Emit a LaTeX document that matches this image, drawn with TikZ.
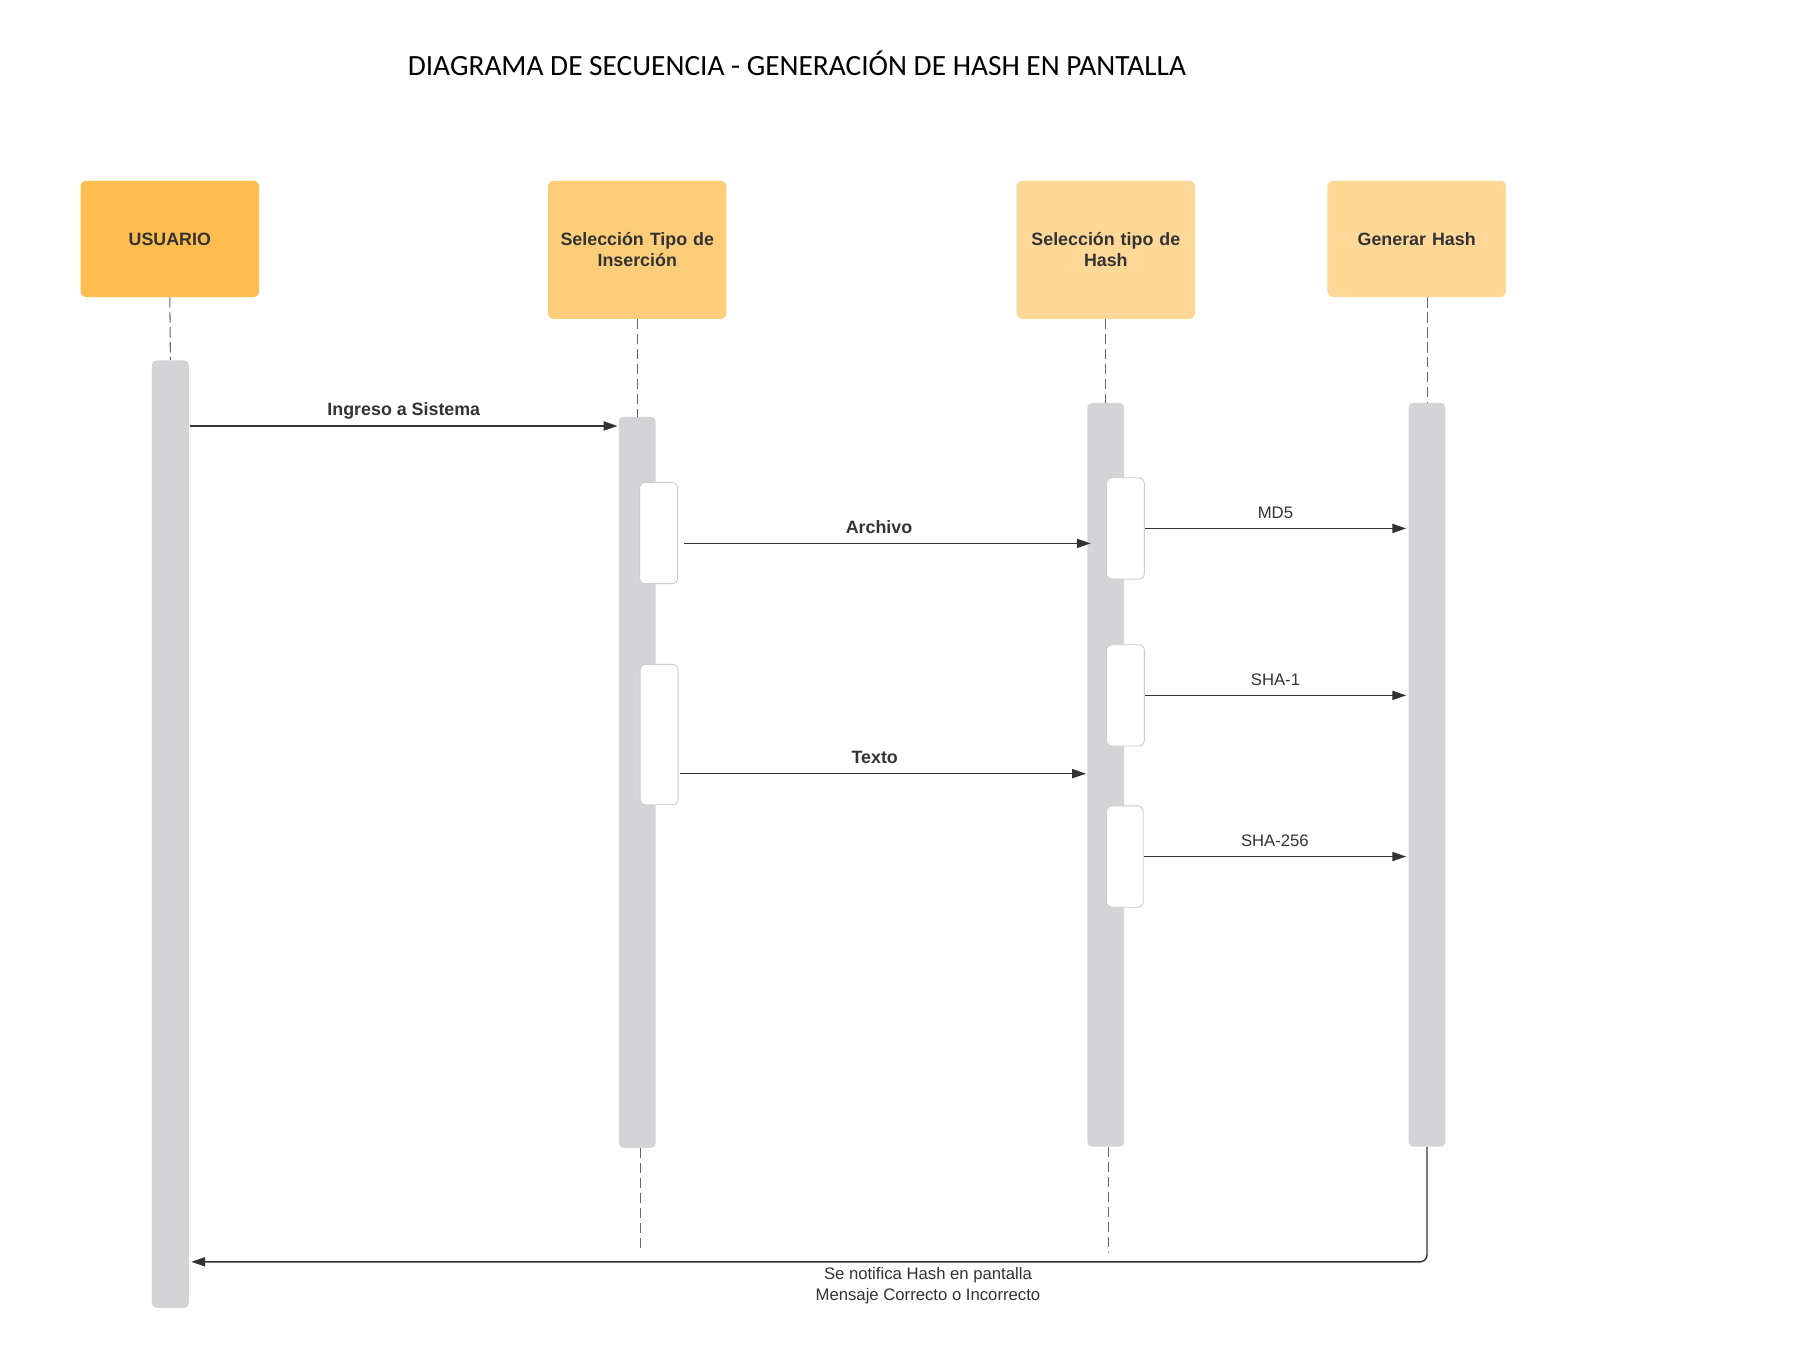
\documentclass[tikz,border=0pt]{standalone}
\usepackage{fontspec}
\setmainfont{Liberation Sans}
\newfontfamily\titlefont{Carlito}
\usepackage{tikz}
\usetikzlibrary{positioning,arrows.meta,calc}
\definecolor{headA}{HTML}{FFBC4F}
\definecolor{headB}{HTML}{FECD7A}
\definecolor{headC}{HTML}{FFD897}
\definecolor{barfill}{HTML}{D4D4D6}
\definecolor{actline}{HTML}{CDCDCF}
\definecolor{ink}{HTML}{333333}
\tikzset{
    head/.style = {
        shape=rectangle,
        rounded corners=5pt,
        minimum width=155pt,
        minimum height=101pt,
        text width=150pt,
        align=center,
        inner sep=0pt,
        text=ink,
        font=\fontsize{15.5}{18}\selectfont\bfseries
    },
    bar/.style = {
        shape=rectangle,
        fill=barfill,
        rounded corners=4pt,
        minimum width=32pt,
        inner sep=0pt
    },
    act/.style = {
        shape=rectangle,
        fill=white,
        draw=actline,
        line width=0.8pt,
        rounded corners=5pt,
        minimum width=33pt,
        minimum height=88pt,
        inner sep=0pt
    },
    life/.style = {
        draw=ink!75,
        line width=0.9pt,
        dash pattern=on 9pt off 4pt
    },
    msg/.style = {
        draw=ink,
        line width=1.2pt,
        -{Triangle[length=12pt,width=8pt]}
    },
    lbl/.style = {
        anchor=base,
        inner sep=0pt,
        text=ink,
        yshift=9pt
    },
    boldlbl/.style = {
        lbl,
        font=\fontsize{15.5}{18}\selectfont\bfseries
    },
    thinlbl/.style = {
        lbl,
        font=\fontsize{14.5}{18}\selectfont
    },
}
\begin{document}
\begin{tikzpicture}[x=1pt,y=-1pt]
    \useasboundingbox[fill=white] (0,0) rectangle (1560,1180);

    \node[anchor=base west, inner sep=0pt, font=\titlefont\fontsize{25.5}{30}\selectfont] (title) at (354,66)
        {DIAGRAMA DE SECUENCIA - GENERACIÓN DE HASH EN PANTALLA};

    % cabeceras
    \node[head, fill=headA] (usuario) at (147.5,207.5) {USUARIO};
    \node[head, fill=headB, minimum height=120pt] (insercion) at (553.5,217) {Selección Tipo de\\Inserción};
    \node[head, fill=headC, minimum height=120pt] (tipohash) at (960.5,217) {Selección tipo de\\Hash};
    \node[head, fill=headC] (genhash) at (1230.5,207.5) {Generar Hash};

    % barras de activacion
    \node[bar, minimum height=823pt] (usbar) at (148,724.5) {};
    \node[bar, minimum height=635pt] (insbar) at (553.5,679.5) {};
    \node[bar, minimum height=646pt] (hashbar) at (960.5,673) {};
    \node[bar, minimum height=646pt] (genbar) at (1239.5,673) {};

    \node[act] (archbox) at (572,463) {};
    \node[act, minimum height=122pt] (textbox) at (572.5,638) {};
    \node[act] (md5box) at (977.5,459) {};
    \node[act] (sha1box) at (977.5,604) {};
    \node[act, minimum width=32pt] (sha256box) at (977,744) {};

    \coordinate (insend) at (556,1088);
    \coordinate (hashend) at (963,1088);

    % lineas de vida
    \path[life] (usuario.south) -- (usbar.north);
    \path[life] (insercion.south) -- (insbar.north);
    \path[life] (tipohash.south) -- (hashbar.north);
    \path[life] (genbar.north |- genhash.south) -- (genbar.north);
    \path[life] (insbar.south -| insend) -- (insend);
    \path[life] (hashbar.south -| hashend) -- (hashend);

    % mensajes
    \path[msg] ([xshift=1pt]usbar.east |- 0,370) -- ([xshift=-1pt]insbar.west |- 0,370)
        node[boldlbl, midway] {Ingreso a Sistema};
    \path[msg] ([xshift=5pt]archbox.east |- 0,472) -- ([xshift=3pt]hashbar.west |- 0,472)
        node[boldlbl, pos=0.48] {Archivo};
    \path[msg] ([xshift=1pt]textbox.east |- 0,672) -- ([xshift=-1pt]hashbar.west |- 0,672)
        node[boldlbl, pos=0.48] {Texto};
    \path[msg] (md5box.east) -- ([xshift=-2pt]genbar.west |- md5box.east)
        node[thinlbl, midway] {MD5};
    \path[msg] (sha1box.east) -- ([xshift=-2pt]genbar.west |- sha1box.east)
        node[thinlbl, midway] {SHA-1};
    \path[msg] (sha256box.east) -- ([xshift=-2pt]genbar.west |- sha256box.east)
        node[thinlbl, midway] {SHA-256};
    \path[msg, rounded corners=6pt] (genbar.south) |- ([xshift=2pt]usbar.east |- 0,1096);

    \node[anchor=north, inner sep=0pt, align=center, text=ink, font=\fontsize{14.5}{18}\selectfont] (aviso) at (806,1101)
        {Se notifica Hash en pantalla\\Mensaje Correcto o Incorrecto};
\end{tikzpicture}
\end{document}
